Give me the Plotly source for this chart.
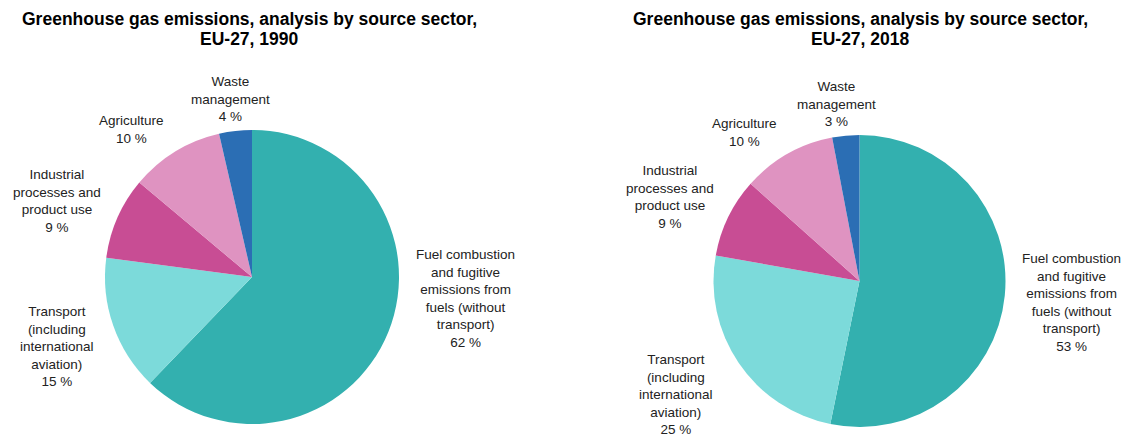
import plotly.graph_objects as go

W, H = 1132, 438

sectors = [
    "Fuel combustion<br>and fugitive<br>emissions from<br>fuels (without<br>transport)",
    "Transport<br>(including<br>international<br>aviation)",
    "Industrial<br>processes and<br>product use",
    "Agriculture",
    "Waste<br>management",
]
values_1990 = [62.2, 14.9, 9.0, 10.3, 3.6]
values_2018 = [53.2, 24.6, 8.8, 10.4, 3.0]
colors = ["#33B0AF", "#7CDADA", "#C84D94", "#DF93C1", "#2B6EB4"]
titles = [
    ["Greenhouse gas emissions, analysis by source sector,", "EU-27, 1990"],
    ["Greenhouse gas emissions, analysis by source sector,", "EU-27, 2018"],
]

FONT = "Liberation Sans, Arial, sans-serif"


def px_x(v):
    return v / W


def px_y(v):
    return 1 - v / H


# layout (pixels): pie centre x, centre y, radius
geoms = [(252, 277, 147), (859.5, 281, 146)]
title_x = [250, 860]
# label anchor positions (pixels): centre x, top y of each label block
label_pos = [
    [(465, 245), (57, 302), (57, 165), (131, 111), (230, 72)],
    [(1071, 249), (676, 350), (670, 161), (744, 114), (836, 77)],
]

fig = go.Figure()
annotations = []
for vals, (cx, cy, r), lpos in zip([values_1990, values_2018], geoms, label_pos):
    fig.add_trace(go.Pie(
        labels=[s.replace("<br>", " ") for s in sectors],
        values=vals,
        textinfo="none",
        sort=False,
        direction="clockwise",
        rotation=0,
        marker=dict(colors=colors, line=dict(color="white", width=0)),
        domain=dict(x=[px_x(cx - r), px_x(cx + r)], y=[px_y(cy + r), px_y(cy - r)]),
        showlegend=False,
        hoverinfo="label+percent",
    ))
    for s, v, (lx, ly) in zip(sectors, vals, lpos):
        annotations.append(dict(
            text=f"{s}<br>{round(v)} %", x=px_x(lx), y=px_y(ly),
            xref="paper", yref="paper", xanchor="center", yanchor="top",
            align="center", showarrow=False,
            font=dict(family=FONT, size=13.5, color="#222222"),
        ))

for (l1, l2), tx in zip(titles, title_x):
    for line, y in ((l1, 19.5), (l2, 39.5)):
        annotations.append(dict(
            text=f"<b>{line}</b>", x=px_x(tx), y=px_y(y), xref="paper", yref="paper",
            xanchor="center", yanchor="middle", showarrow=False,
            font=dict(family=FONT, size=17.5, color="#000000"),
        ))

fig.update_layout(
    width=W, height=H,
    margin=dict(l=0, r=0, t=0, b=0),
    paper_bgcolor="white",
    plot_bgcolor="white",
    annotations=annotations,
)

fig.write_html(
    "out.html",
    config={"displayModeBar": False},
    post_script="document.body.style.margin='0px';document.body.style.overflow='hidden';",
)
